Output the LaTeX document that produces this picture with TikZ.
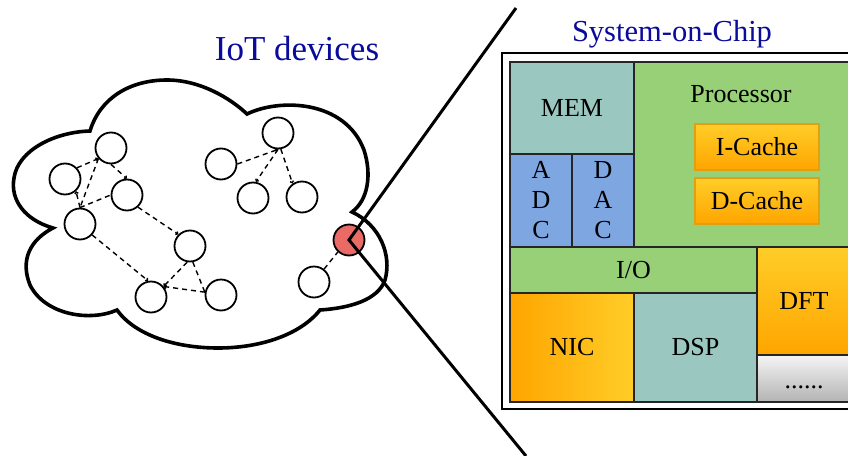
\documentclass[tikz,border=0pt]{standalone}
\usepackage{fontspec}
\setmainfont{Liberation Serif}
\usetikzlibrary{arrows.meta}
\definecolor{titleblue}{RGB}{10,10,155}
\definecolor{memteal}{HTML}{9AC7BF}
\definecolor{convblue}{HTML}{7EA6E0}
\definecolor{cpugreen}{HTML}{97D077}
\definecolor{amberlight}{HTML}{FFCD28}
\definecolor{amberdark}{HTML}{FFA500}
\definecolor{cacheline}{HTML}{E0A010}
\definecolor{greylight}{HTML}{F5F5F5}
\definecolor{greydark}{HTML}{B3B3B3}
\definecolor{nodered}{HTML}{EA6B66}
\definecolor{blockline}{HTML}{262626}
\begin{document}
\begin{tikzpicture}[x=1pt,y=-1pt,
  dev/.style={circle,draw,line width=1.8pt,minimum size=31pt,inner sep=0pt,fill=white},
  link/.style={line width=1.4pt,dash pattern=on 5pt off 4pt,
    -{Straight Barb[length=1.6pt,width=3.5pt]}},
  plainlink/.style={line width=1.4pt,dash pattern=on 5pt off 4pt},
  blk/.style={draw=blockline,line width=1.6pt,inner sep=0pt,
    font=\fontsize{26}{30}\selectfont},
  cache/.style={draw=cacheline,line width=1.2pt,inner sep=0pt,
    minimum width=124pt,minimum height=46pt,top color=amberlight,bottom color=amberdark,
    font=\fontsize{26}{30}\selectfont},
  title/.style={text=titleblue,anchor=base},
]
\fill[white] (0,0) rectangle (848,455);
\useasboundingbox (0,0) rectangle (848,455);
\clip (0,0) rectangle (848,455);

% ---- cloud of IoT devices ----
\draw[line width=3.6pt,fill=white,line join=miter]
  (90,131) .. controls (100,98) and (130,80) .. (167,80)
  .. controls (200,80) and (230,98) .. (247,114)
  .. controls (280,98) and (345,100) .. (364,150)
  .. controls (372,175) and (368,200) .. (352,212)
  .. controls (380,225) and (392,255) .. (385,280)
  .. controls (378,300) and (350,308) .. (320,310)
  .. controls (300,335) and (260,348) .. (218,348)
  .. controls (175,348) and (135,335) .. (117,310)
  .. controls (90,322) and (45,315) .. (30,285)
  .. controls (20,260) and (30,240) .. (53,228)
  .. controls (25,220) and (10,200) .. (14,178)
  .. controls (18,150) and (55,132) .. (90,131) -- cycle;

\node[title,font=\fontsize{35}{40}\selectfont] (ttl) at (297,60) {IoT devices};

% devices
\node[dev] (A) at (111,148) {};
\node[dev] (B) at (65,179) {};
\node[dev] (C) at (127,195) {};
\node[dev] (D) at (80,224) {};
\node[dev] (E) at (190,246) {};
\node[dev] (F) at (151,297) {};
\node[dev] (G) at (221,295) {};
\node[dev] (H) at (278,133) {};
\node[dev] (I) at (221,164) {};
\node[dev] (J) at (253,198) {};
\node[dev] (K) at (302,197) {};
\node[dev] (L) at (314,282) {};
\node[dev,fill=nodered] (R) at (349,240) {};

% links between devices
\draw[link] (B.43) -- (A.220);
\draw[plainlink] (A.220) -- (D.90);
\draw[link] (D.90) -- (B.-48);
\draw[plainlink] (D.90) -- (C.180);
\draw[link] (A.270) -- (C.90);
\draw[link] (C.-48) -- (E.135);
\draw[link] (D.-42) -- (F.100);
\draw[link] (E.-100) -- (F.40);
\draw[plainlink] (E.-80) -- (G.170);
\draw[link] (G.170) -- (F.40);
\draw[link] (I.0) -- (H.-90);
\draw[link] (H.-90) -- (J.80);
\draw[link] (H.-80) -- (K.125);
\draw[plainlink] (L.52) -- (R.227);

% ---- system-on-chip ----
\node[title,font=\fontsize{30.5}{36}\selectfont] (soc) at (672,41) {System-on-Chip};
\draw[line width=1.6pt] (502,53) rectangle (870,409);

\node[blk,fill=memteal,minimum width=124pt,minimum height=92pt] (mem) at (572,108) {MEM};
\node[blk,fill=convblue,minimum width=62pt,minimum height=93pt,align=center] (adc) at (541,200.5) {A\\D\\C};
\node[blk,fill=convblue,minimum width=62pt,minimum height=93pt,align=center] (dac) at (603,200.5) {D\\A\\C};
\node[blk,fill=cpugreen,minimum width=216pt,minimum height=185pt] (cpu) at (742,154.5) {};
\node[font=\fontsize{26}{30}\selectfont] (cpulabel) at (741,94) {Processor};
\node[cache] (icache) at (757,147) {I-Cache};
\node[cache] (dcache) at (757,201) {D-Cache};
\node[blk,fill=cpugreen,minimum width=247pt,minimum height=46pt] (io) at (633.5,270) {I/O};
\node[blk,left color=amberdark,right color=amberlight,minimum width=124pt,minimum height=109pt] (nic) at (572,347.5) {NIC};
\node[blk,fill=memteal,minimum width=123pt,minimum height=109pt] (dsp) at (695.5,347.5) {DSP};
\node[blk,top color=amberlight,bottom color=amberdark,minimum width=94pt,minimum height=108pt] (dft) at (804,301) {DFT};
\node[blk,top color=greylight,bottom color=greydark,minimum width=94pt,minimum height=47pt] (more) at (804,378.5) {\strut\raisebox{-4pt}{......}};

% zoom lines from the highlighted device
\coordinate (zt) at (516,8);
\coordinate (zb) at (526,456);
\draw[line width=3pt,line join=miter] (zt) -- (R.center) -- (zb);
\end{tikzpicture}
\end{document}
